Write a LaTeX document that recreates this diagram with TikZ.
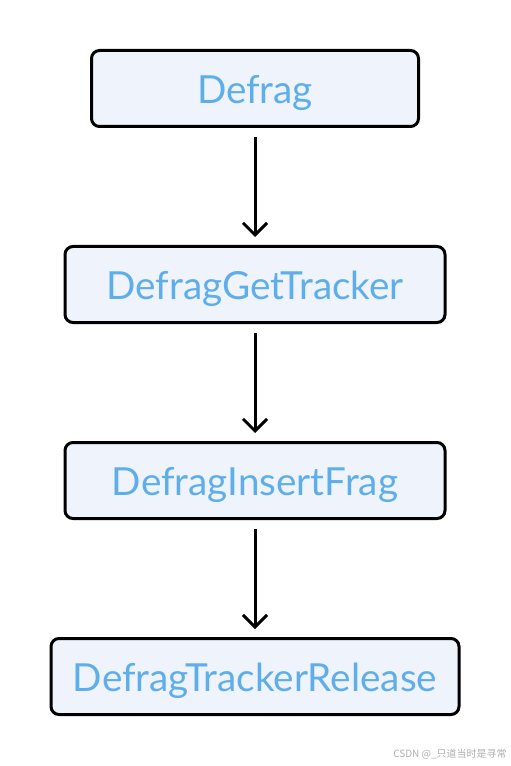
\documentclass[tikz,border=0pt]{standalone}
\usepackage{fontspec}
\setmainfont{Lato}
\newfontfamily\cjkfont{Noto Sans CJK SC}
\usepackage{tikz}
\usetikzlibrary{arrows.meta}
\definecolor{boxfill}{RGB}{238,243,252}
\definecolor{boxtext}{RGB}{95,174,236}
\definecolor{marktext}{RGB}{175,175,175}

\begin{document}
\begin{tikzpicture}[x=0.75pt, y=-0.75pt,
  >={Straight Barb[length=9pt,width=18pt]},
  proc/.style={draw=black, line width=2.25pt, fill=boxfill, rounded corners=6pt,
    minimum height=57pt, inner sep=0pt, text height=22pt, text depth=0pt,
    text=boxtext, font=\fontsize{29}{32}\selectfont},
  flow/.style={->, line width=2.25pt, shorten <=6.75pt, shorten >=6pt}]

\useasboundingbox[fill=white] (0,0) rectangle (510,766);

\node[proc, minimum width=245.25pt] (defrag) at (255,88.5) {Defrag};
\node[proc, minimum width=285pt] (gettracker) at (255,284.5) {DefragGetTracker};
\node[proc, minimum width=285pt] (insertfrag) at (255,480.5) {DefragInsertFrag};
\node[proc, minimum width=306pt] (release) at (255,676.5) {DefragTrackerRelease};

\draw[flow] (defrag) -- (gettracker);
\draw[flow] (gettracker) -- (insertfrag);
\draw[flow] (insertfrag) -- (release);

% watermark
\node[anchor=east, text=marktext, inner sep=0pt, font=\cjkfont\fontsize{7.5}{8}\selectfont] (mark) at (507,754) {CSDN @\_只道当时是寻常};
\end{tikzpicture}
\end{document}
